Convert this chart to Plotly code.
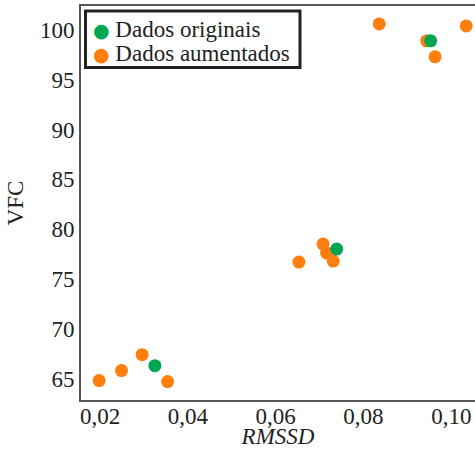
import plotly.graph_objects as go

orig_x = [0.0325, 0.0739, 0.0953]
orig_y = [66.3, 78.0, 98.9]

aug_x = [0.0198, 0.0249, 0.0296, 0.0354, 0.0653, 0.0708, 0.0716, 0.0731, 0.0836, 0.0944, 0.0963, 0.1034]
aug_y = [64.8, 65.8, 67.4, 64.7, 76.7, 78.5, 77.6, 76.8, 100.6, 98.9, 97.3, 100.4]

x_ticks = [0.02, 0.04, 0.06, 0.08, 0.10]
x_tick_text = ["0,02", "0,04", "0,06", "0,08", "0,10"]
y_ticks = [65, 70, 75, 80, 85, 90, 95, 100]

GREEN = "#00a651"
ORANGE = "#ff7f0e"
FONT = "Liberation Serif"
TXT = "#222222"
FS = 23

fig = go.Figure()
fig.add_trace(go.Scatter(x=aug_x, y=aug_y, mode="markers", name="Dados aumentados",
                         marker=dict(color=ORANGE, size=13), showlegend=False))
fig.add_trace(go.Scatter(x=orig_x, y=orig_y, mode="markers", name="Dados originais",
                         marker=dict(color=GREEN, size=13), showlegend=False))


def bullet(color, label):
    return (f"<span style='color:{color};font-family:DejaVu Sans;font-size:19px'>\u25cf</span>"
            f" {label}")


fig.add_trace(go.Scatter(x=[None], y=[None], mode="markers",
                         name=bullet(GREEN, "Dados originais"),
                         marker=dict(color="rgba(0,0,0,0)", size=1), legend="legend"))
fig.add_trace(go.Scatter(x=[None], y=[None], mode="markers",
                         name=bullet(ORANGE, "Dados aumentados"),
                         marker=dict(color="rgba(0,0,0,0)", size=1), legend="legend2"))

leg_common = dict(xanchor="left", yanchor="middle", borderwidth=0,
                  bgcolor="rgba(0,0,0,0)", font=dict(family=FONT, size=FS, color=TXT),
                  itemsizing="trace")

fig.update_layout(
    width=475, height=449,
    margin=dict(l=81, r=0, t=6, b=49, autoexpand=False),
    paper_bgcolor="white", plot_bgcolor="white",
    font=dict(family=FONT, size=FS, color=TXT),
    legend=dict(x=-0.071, y=0.944, **leg_common),
    legend2=dict(x=-0.071, y=0.883, **leg_common),
    shapes=[dict(type="rect", xref="paper", yref="paper", x0=0.0114, x1=0.5558,
                 y0=0.8439, y1=0.9873, line=dict(color="#222222", width=3),
                 fillcolor="white", layer="below")],
    xaxis=dict(range=[0.01567, 0.1054], tickvals=x_ticks, ticktext=x_tick_text,
               tickfont=dict(family=FONT, size=FS, color=TXT), ticklabelstandoff=-6,
               showgrid=False, zeroline=False, showline=True, linecolor="#555555",
               linewidth=2, mirror=True, ticks="", automargin=False,
               title=dict(text="<i>RMSSD</i>", standoff=6,
                          font=dict(family=FONT, size=FS, color=TXT))),
    yaxis=dict(range=[62.85, 102.4], tickvals=y_ticks,
               tickfont=dict(family=FONT, size=FS, color=TXT),
               showgrid=False, zeroline=False, showline=True, linecolor="#555555",
               linewidth=2, mirror=False, ticks="", automargin=False,
               title=dict(text="VFC", standoff=10,
                          font=dict(family=FONT, size=FS, color=TXT))),
)

fig.write_html("out.html")
